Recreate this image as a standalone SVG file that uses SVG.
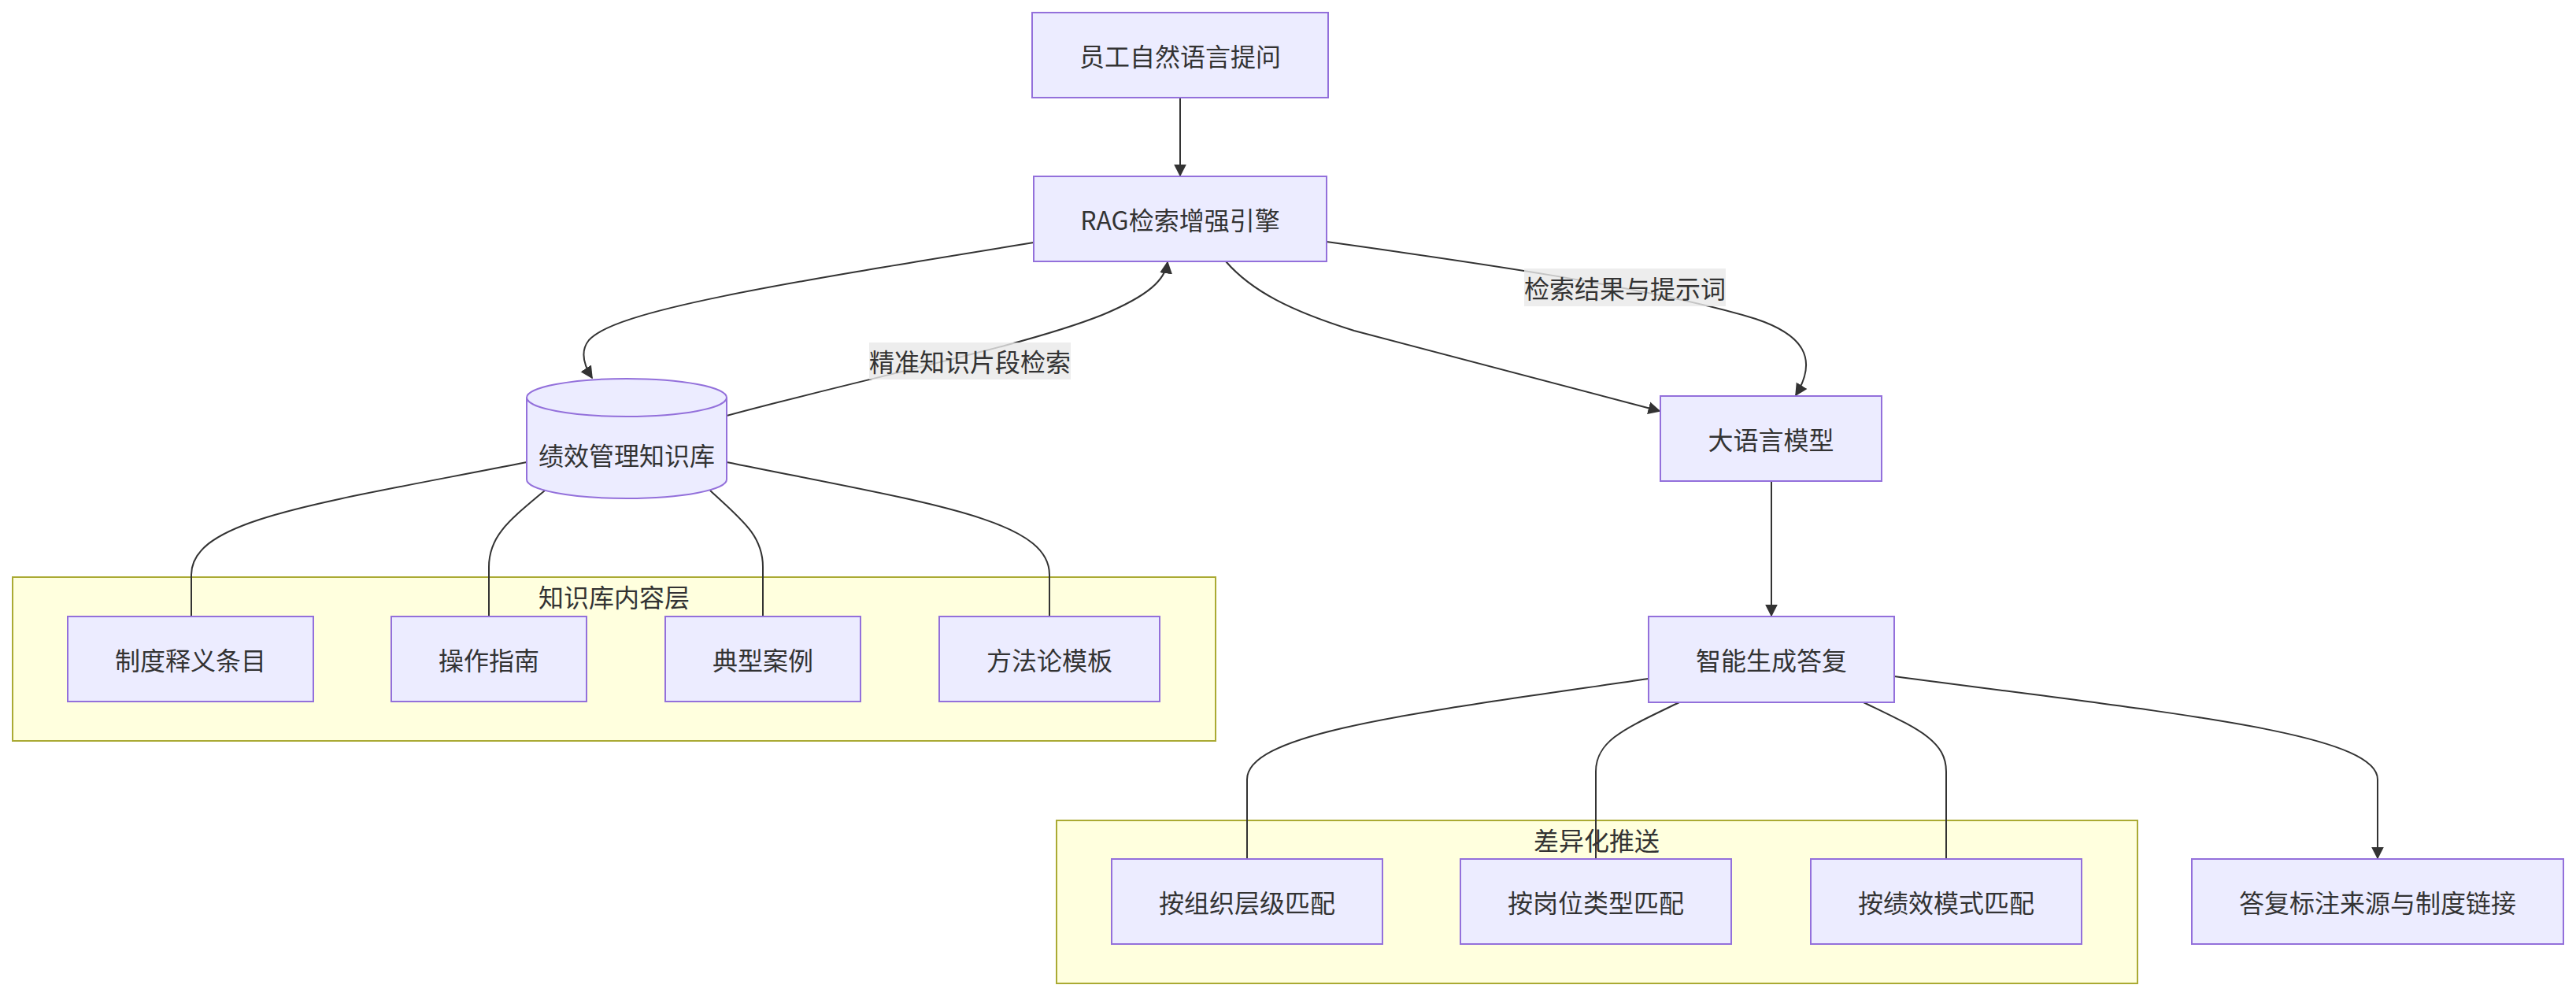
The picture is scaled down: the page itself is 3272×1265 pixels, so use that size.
<svg xmlns="http://www.w3.org/2000/svg" width="3272" height="1265" viewBox="0 0 3272 1265">
<style>
.node rect, .node path { fill: #ECECFF; stroke: #9370DB; stroke-width: 2; }
.cluster rect { fill: #ffffde; stroke: #aaaa33; stroke-width: 2; }
text { font-family: "Noto Sans CJK SC", "Noto Sans", sans-serif; font-size: 32px; fill: #333; text-anchor: middle; dominant-baseline: central; }
.edge { fill: none; stroke: #333; stroke-width: 2; }
.arrow { marker-end: url(#arrowhead); }
.lbl rect { fill: #e8e8e8; opacity: 0.8; stroke: none; }
</style>
<defs>
<marker id="arrowhead" viewBox="0 0 10 10" refX="9" refY="5" markerWidth="16" markerHeight="17" markerUnits="userSpaceOnUse" orient="auto">
<path d="M0,0 L10,5 L0,10 z" fill="#333"/>
</marker>
</defs>
<rect x="0" y="0" width="3272" height="1265" fill="#ffffff"/>

<g id="cluster-kb" class="cluster">
<rect x="16" y="733" width="1528" height="208"/>
<text x="780" y="757">知识库内容层</text>
</g>
<g id="cluster-push" class="cluster">
<rect x="1342" y="1042" width="1373" height="207"/>
<text x="2028" y="1066">差异化推送</text>
</g>

<g id="connectors">
<path class="edge arrow" d="M1499,124 L1499,223"/>
<path class="edge arrow" d="M1313,308 C 980,362 780,395 748,432 C 736,447 743,466 752,480"/>
<path class="edge arrow" d="M923,528 C 1100,480 1300,440 1400,400 C 1460,375 1480,355 1483,333"/>
<path class="edge arrow" d="M1557,332 C 1590,370 1640,395 1720,420 L 2108,522"/>
<path class="edge arrow" d="M1685,307 C 1850,330 2100,365 2230,405 C 2290,425 2310,455 2281,502"/>
<path class="edge arrow" d="M2250,611 L2250,782"/>
<path class="edge" d="M669,587 C 400,640 243,660 243,730 L243,783"/>
<path class="edge" d="M692,623 C 648,660 621,680 621,720 L621,783"/>
<path class="edge" d="M902,623 C 942,660 969,680 969,720 L969,783"/>
<path class="edge" d="M923,587 C 1185,640 1333,660 1333,730 L1333,783"/>
<path class="edge" d="M2094,862 C 1800,905 1584,930 1584,990 L1584,1091"/>
<path class="edge" d="M2133,892 C 2065,925 2027,940 2027,980 L2027,1091"/>
<path class="edge" d="M2367,892 C 2435,925 2472,940 2472,980 L2472,1091"/>
<path class="edge arrow" d="M2406,859 C 2750,905 3020,930 3020,990 L3020,1090"/>
<g class="lbl">
<rect x="1104" y="435" width="256" height="47"/>
<text x="1232" y="458">精准知识片段检索</text>
</g>
<g class="lbl">
<rect x="1936" y="341" width="256" height="48"/>
<text x="2064" y="365">检索结果与提示词</text>
</g>
</g>

<g id="n-question" class="node">
<rect x="1311" y="16" width="376" height="108"/>
<text x="1499" y="70">员工自然语言提问</text>
</g>
<g id="n-rag" class="node">
<rect x="1313" y="224" width="372" height="108"/>
<text x="1499" y="278">RAG检索增强引擎</text>
</g>
<g id="n-kb" class="node">
<path d="M669,505 a127,24 0 0,0 254,0 a127,24 0 0,0 -254,0 l0,104 a127,24 0 0,0 254,0 l0,-104"/>
<text x="796" y="577">绩效管理知识库</text>
</g>
<g id="n-llm" class="node">
<rect x="2109" y="503" width="281" height="108"/>
<text x="2249.5" y="557">大语言模型</text>
</g>
<g id="n-answer" class="node">
<rect x="2094" y="783" width="312" height="109"/>
<text x="2250" y="837">智能生成答复</text>
</g>
<g id="n-policy" class="node">
<rect x="86" y="783" width="312" height="108"/>
<text x="242" y="837">制度释义条目</text>
</g>
<g id="n-guide" class="node">
<rect x="497" y="783" width="248" height="108"/>
<text x="621" y="837">操作指南</text>
</g>
<g id="n-case" class="node">
<rect x="845" y="783" width="248" height="108"/>
<text x="969" y="837">典型案例</text>
</g>
<g id="n-method" class="node">
<rect x="1193" y="783" width="280" height="108"/>
<text x="1333" y="837">方法论模板</text>
</g>
<g id="n-org" class="node">
<rect x="1412" y="1091" width="344" height="108"/>
<text x="1584" y="1145">按组织层级匹配</text>
</g>
<g id="n-post" class="node">
<rect x="1855" y="1091" width="344" height="108"/>
<text x="2027" y="1145">按岗位类型匹配</text>
</g>
<g id="n-perf" class="node">
<rect x="2300" y="1091" width="344" height="108"/>
<text x="2472" y="1145">按绩效模式匹配</text>
</g>
<g id="n-cite" class="node">
<rect x="2784" y="1091" width="472" height="108"/>
<text x="3020" y="1145">答复标注来源与制度链接</text>
</g>
</svg>
